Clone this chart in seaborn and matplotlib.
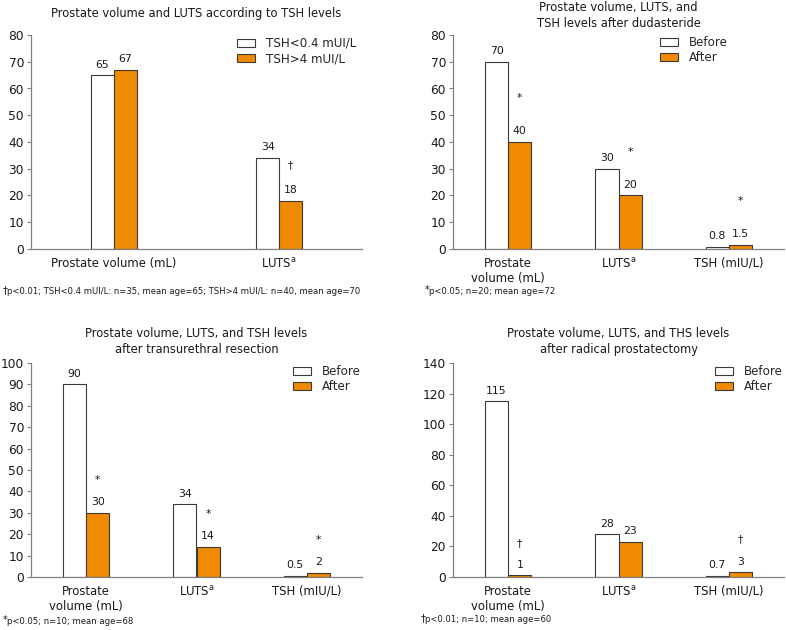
import matplotlib
matplotlib.use("Agg")
import pandas as pd
import matplotlib.pyplot as plt
import seaborn as sns

# -----------------------------
# Data
# -----------------------------
luts = r"LUTS$^{\mathrm{a}}$"

p1_title = "Prostate volume and LUTS according to TSH levels"
p1_categories = ["Prostate volume (mL)", luts]
p1_groups = ["TSH<0.4 mUI/L", "TSH>4 mUI/L"]
p1_low = [65, 34]
p1_high = [67, 18]
p1_low_labels = ["65", "34"]
p1_high_labels = ["67", "18"]
p1_marks = ["", "\u2020"]
p1_note = ("\u2020", "p<0.01; TSH<0.4 mUI/L: n=35, mean age=65; TSH>4 mUI/L: n=40, mean age=70")

three_categories = ["Prostate\nvolume (mL)", luts, "TSH (mIU/L)"]
before_after = ["Before", "After"]

p2_title = "Prostate volume, LUTS, and\nTSH levels after dudasteride"
p2_before = [70, 30, 0.8]
p2_after = [40, 20, 1.5]
p2_before_labels = ["70", "30", "0.8"]
p2_after_labels = ["40", "20", "1.5"]
p2_marks = ["*", "*", "*"]
p2_note = ("*", "p<0.05; n=20; mean age=72")

p3_title = "Prostate volume, LUTS, and TSH levels\nafter transurethral resection"
p3_before = [90, 34, 0.5]
p3_after = [30, 14, 2]
p3_before_labels = ["90", "34", "0.5"]
p3_after_labels = ["30", "14", "2"]
p3_marks = ["*", "*", "*"]
p3_note = ("*", "p<0.05; n=10; mean age=68")

p4_title = "Prostate volume, LUTS, and THS levels\nafter radical prostatectomy"
p4_before = [115, 28, 0.7]
p4_after = [1, 23, 3]
p4_before_labels = ["115", "28", "0.7"]
p4_after_labels = ["1", "23", "3"]
p4_marks = ["\u2020", "", "\u2020"]
p4_note = ("\u2020", "p<0.01; n=10; mean age=60")

# -----------------------------
# Style
# -----------------------------
sns.set_theme(style="white")
plt.rcParams["font.family"] = ["DejaVu Sans"]
plt.rcParams["mathtext.fontset"] = "dejavusans"

W, H = 786, 630
ORANGE = "#F08A00"
EDGE = "#3a3a3a"
SPINE = "#808080"
TEXT = "#1a1a1a"


def fx(px):
    return px / W


def fy(py):
    return 1 - py / H


def draw_panel(fig, rect, title, title_y, categories, groups, first, second,
               first_labels, second_labels, marks, mark_pad, width,
               ymax, ystep, xmax, legend_xy, note, note_y, note_x):
    ax = fig.add_axes(rect)
    df = pd.DataFrame({
        "category": categories * 2,
        "group": [groups[0]] * len(categories) + [groups[1]] * len(categories),
        "value": list(first) + list(second),
    })
    sns.barplot(
        data=df, x="category", y="value", hue="group",
        order=categories, hue_order=groups,
        palette=["white", ORANGE], width=width, gap=0,
        edgecolor=EDGE, linewidth=0.8, saturation=1,
        errorbar=None, ax=ax, legend=False
    )

    ax.bar_label(ax.containers[0], labels=first_labels, padding=4,
                 fontsize=7.8, color=TEXT)
    ax.bar_label(ax.containers[1], labels=second_labels, padding=4,
                 fontsize=7.8, color=TEXT)
    ax.bar_label(ax.containers[1], labels=marks, padding=mark_pad,
                 fontsize=7.8, color=TEXT)

    ax.set_xlim(-0.5, xmax)
    ax.set_ylim(0, ymax)
    ax.set_yticks(range(0, ymax + 1, ystep))
    ax.set_xticks(range(len(categories)))
    ax.set_xticklabels(categories, fontsize=8.4, color=TEXT, linespacing=1.2)
    ax.set_xticks([i - 0.5 for i in range(len(categories) + 1)], minor=True)
    ax.tick_params(axis="x", which="major", length=0, pad=5.5)
    ax.tick_params(axis="x", which="minor", length=3, width=0.8,
                   color=SPINE, direction="out")
    ax.tick_params(axis="y", length=3, width=0.8, color=SPINE,
                   labelsize=8.8, labelcolor=TEXT, pad=2, left=True)
    ax.set_xlabel("")
    ax.set_ylabel("")
    for side in ["top", "right"]:
        ax.spines[side].set_visible(False)
    for side in ["left", "bottom"]:
        ax.spines[side].set_color(SPINE)
        ax.spines[side].set_linewidth(0.9)

    cx = rect[0] + rect[2] / 2
    fig.text(cx, fy(title_y), title, ha="center", va="top",
             fontsize=8.3, color=TEXT, linespacing=1.3)

    ax.legend(
        ax.containers, groups,
        loc="upper left", bbox_to_anchor=(fx(legend_xy[0]), fy(legend_xy[1])),
        bbox_transform=fig.transFigure, frameon=False, fontsize=8.6,
        borderpad=0, borderaxespad=0, handlelength=1.5, handleheight=0.6,
        handletextpad=0.9, labelspacing=0.2
    )

    fig.text(fx(note_x), fy(note_y - 2), note[0], ha="left", va="center",
             fontsize=7, color=TEXT)
    fig.text(fx(note_x + 4), fy(note_y), note[1], ha="left", va="center",
             fontsize=6.1, color=TEXT)
    return ax


fig = plt.figure(figsize=(W / 100, H / 100), dpi=100)

draw_panel(fig, [fx(31), fy(249), fx(331), 214 / H], p1_title, 7,
           p1_categories, p1_groups, p1_low, p1_high,
           p1_low_labels, p1_high_labels, p1_marks, 22, 0.28,
           80, 10, 1.5, (237, 37), p1_note, 292, 3)

draw_panel(fig, [fx(453), fy(249), fx(331), 214 / H], p2_title, 1,
           three_categories, before_after, p2_before, p2_after,
           p2_before_labels, p2_after_labels, p2_marks, 28, 0.42,
           80, 10, 2.5, (660, 36), p2_note, 292, 425)

draw_panel(fig, [fx(31), fy(577), fx(331), 214 / H], p3_title, 327,
           three_categories, before_after, p3_before, p3_after,
           p3_before_labels, p3_after_labels, p3_marks, 20, 0.42,
           100, 10, 2.5, (293, 365), p3_note, 622, 3)

draw_panel(fig, [fx(453), fy(577), fx(331), 214 / H], p4_title, 327,
           three_categories, before_after, p4_before, p4_after,
           p4_before_labels, p4_after_labels, p4_marks, 20, 0.42,
           140, 20, 2.5, (715, 365), p4_note, 620, 421)

fig.savefig("out.png", dpi=100, facecolor="white")
